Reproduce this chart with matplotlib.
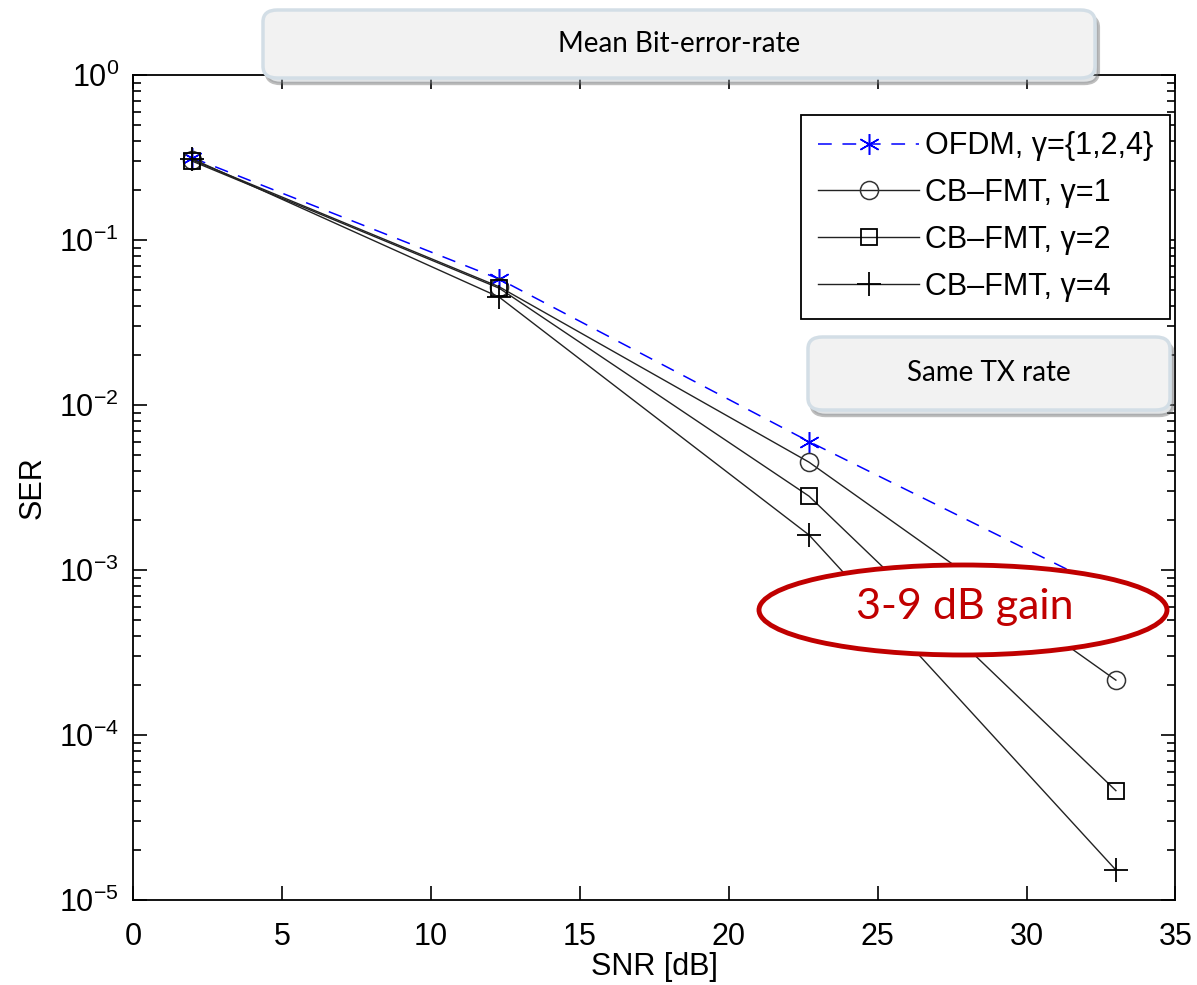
import numpy as np
import matplotlib
matplotlib.use("Agg")
import matplotlib.pyplot as plt
from matplotlib.patches import FancyBboxPatch, Ellipse, Shadow
from matplotlib.ticker import LogLocator

# data --------------------------------------------------------------------
snr = [2.0, 12.3, 22.7, 33.0]
ser_ofdm = [0.315, 0.058, 0.0060, 7.2e-4]
ser_g1 = [0.305, 0.052, 0.0045, 2.15e-4]
ser_g2 = [0.300, 0.051, 0.0028, 4.6e-5]
ser_g4 = [0.310, 0.045, 0.00163, 1.52e-5]
labels = ["OFDM, \u03b3={1,2,4}", "CB\u2013FMT, \u03b3=1", "CB\u2013FMT, \u03b3=2", "CB\u2013FMT, \u03b3=4"]

plt.rcParams["font.family"] = ["Liberation Sans", "DejaVu Sans"]
plt.rcParams["mathtext.default"] = "regular"

fig = plt.figure(figsize=(11.97, 9.85), dpi=100)
ax = fig.add_axes([0.111, 0.0863, 0.871, 0.8376])

asterisk = (6, 2, 0)
ax.semilogy(snr, ser_ofdm, color="#0000ff", ls=(0, (9, 7)), lw=1.1,
            marker=asterisk, ms=15, mew=1.1, label=labels[0])
ax.semilogy(snr, ser_g1, color="#222222", lw=1.0, marker="o", ms=13,
            mfc="none", mec="#333333", mew=1.1, label=labels[1])
ax.semilogy(snr, ser_g2, color="#222222", lw=1.0, marker="s", ms=11,
            mfc="none", mec="black", mew=1.3, label=labels[2])
ax.semilogy(snr, ser_g4, color="#222222", lw=1.0, marker="+", ms=17,
            mec="black", mew=1.3, label=labels[3])

ax.set_xlim(0, 35)
ax.set_ylim(1e-5, 1)
ax.set_xticks(range(0, 36, 5))
ax.yaxis.set_major_locator(LogLocator(base=10, numticks=10))
ax.yaxis.set_minor_locator(LogLocator(base=10, subs=np.arange(2, 10), numticks=10))
ax.tick_params(which="both", direction="in", top=True, right=True, labelsize=22,
               width=1.2, colors="black")
ax.tick_params(which="major", length=10, pad=10)
ax.tick_params(axis="x", which="major", pad=16)
ax.tick_params(which="minor", length=6)
for s in ax.spines.values():
    s.set_linewidth(1.3)
ax.set_xlabel("SNR [dB]", fontsize=22, labelpad=0)
ax.set_ylabel("SER", fontsize=22, labelpad=8)

leg = ax.legend(loc="upper right", bbox_to_anchor=(0.995, 0.952), borderaxespad=0,
                fontsize=22, fancybox=False, edgecolor="black", framealpha=1,
                handlelength=3.3, handletextpad=0.2, labelspacing=0.55,
                borderpad=0.55)
leg.get_frame().set_linewidth(1.3)

# annotation boxes ---------------------------------------------------------
W, H = 1197.0, 985.0


def callout(x0, y0, x1, y1, text):
    box = FancyBboxPatch((x0 / W, 1 - y1 / H), (x1 - x0) / W, (y1 - y0) / H,
                         boxstyle="round,pad=0,rounding_size=0.012",
                         transform=fig.transFigure, facecolor="#f2f2f2",
                         edgecolor="#d3dee6", lw=2.5, zorder=10)
    sh = Shadow(box, 0.002, -0.004, facecolor="#a9b3ba", alpha=0.35, zorder=9)
    fig.add_artist(sh)
    fig.add_artist(box)
    fig.text((x0 + x1) / 2 / W, 1 - (y0 + y1) / 2 / H, text, ha="center",
             va="center", fontsize=20, family=["Lato", "DejaVu Sans"], zorder=11)


callout(263, 10, 1095, 78, "Mean Bit-error-rate")
callout(808, 337, 1170, 410, "Same TX rate")

ell = Ellipse((963 / W, 1 - 610 / H), 408 / W, 90 / H, transform=fig.transFigure,
              facecolor="white", edgecolor="#c00000", lw=3.5, zorder=10)
fig.add_artist(ell)
fig.text(965 / W, 1 - 607 / H, "3-9 dB gain", ha="center", va="center",
         fontsize=31, color="#c00000", family=["Lato", "DejaVu Sans"], zorder=11)

fig.savefig("out.png", dpi=100)
